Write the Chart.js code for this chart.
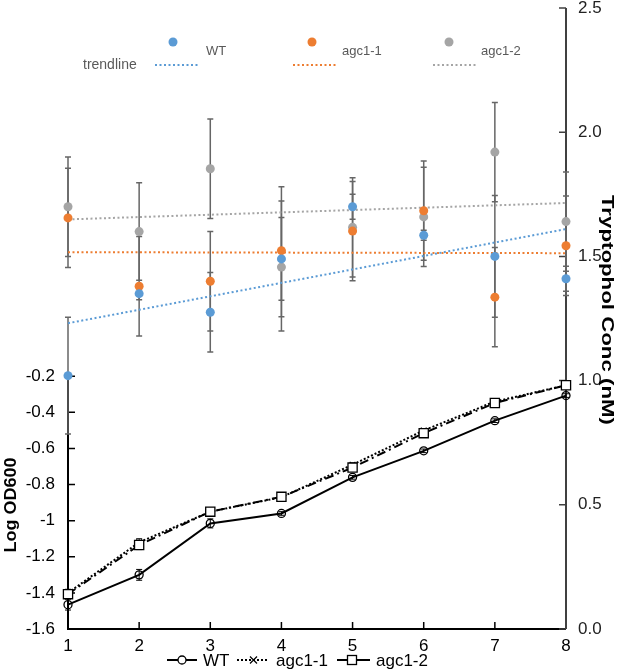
<!DOCTYPE html>
<html>
<head>
<meta charset="utf-8">
<script src="https://cdn.jsdelivr.net/npm/chart.js@4.4.1/dist/chart.umd.min.js"></script>
<style>
  html, body { margin: 0; padding: 0; background: #fff; }
</style>
</head>
<body>
<canvas id="chart" width="625" height="670"></canvas>
<script>
// x: days
const DAYS = [1, 2, 3, 4, 5, 6, 7, 8];

// Log OD600 (left axis)
const odWT   = [-1.465, -1.30, -1.015, -0.96, -0.76, -0.613, -0.446, -0.307];
const odAgc1 = [-1.40, -1.12, -0.95, -0.87, -0.69, -0.50, -0.34, -0.25];
const odAgc2 = [-1.407, -1.135, -0.95, -0.868, -0.706, -0.515, -0.348, -0.25];
const odErrWT   = [0.03, 0.03, 0.025, 0.01, 0.01, 0.01, 0.01, 0.01];
const odErrAgc1 = [0.02, 0.02, 0.01, 0.01, 0.01, 0.01, 0.01, 0.01];
const odErrAgc2 = [0.02, 0.025, 0.02, 0.01, 0.01, 0.01, 0.01, 0.01];

// Tryptophol Conc (nM) (right axis)
const trpWT   = [1.02, 1.35, 1.275, 1.49, 1.70, 1.585, 1.50, 1.41];
const trpAgc1 = [1.655, 1.38, 1.40, 1.523, 1.602, 1.684, 1.336, 1.543];
const trpAgc2 = [1.70, 1.60, 1.853, 1.457, 1.617, 1.659, 1.92, 1.64];
const trpErrWT   = [0.235, 0.025, 0.16, 0.29, 0.05, 0.02, 0.245, 0.05];
const trpErrAgc1 = [0.2, 0.2, 0.2, 0.2, 0.2, 0.2, 0.2, 0.2];
const trpErrAgc2 = [0.2, 0.196, 0.2, 0.2, 0.2, 0.2, 0.2, 0.2];

// trendlines (values at first and last day)
const trendX    = [1, 8];
const trendWT   = [1.231, 1.61];
const trendAgc1 = [1.517, 1.513];
const trendAgc2 = [1.649, 1.715];

const SERIES = ['WT', 'agc1-1', 'agc1-2'];
const COLORS = ['#5B9BD5', '#ED7D31', '#A5A5A5'];
const FONT = '"Liberation Sans", Arial, sans-serif';

const pts = (xs, ys) => xs.map((x, i) => ({ x, y: ys[i] }));

function scatterSet(i, vals, errs) {
  return {
    type: 'scatter', label: SERIES[i], yAxisID: 'yR',
    data: pts(DAYS, vals), errors: errs, errColor: '#666', errWidth: 1.5,
    pointRadius: 4.5, pointBackgroundColor: COLORS[i], pointBorderWidth: 0,
    clip: false, order: 0
  };
}

function trendSet(i, vals) {
  return {
    type: 'line', label: 'trend ' + SERIES[i], yAxisID: 'yR',
    data: pts(trendX, vals), borderColor: COLORS[i], borderWidth: 2,
    borderDash: [2, 2.5], pointRadius: 0, fill: false, clip: false, order: 3
  };
}

const odSets = [
  {
    type: 'line', label: 'WT', yAxisID: 'yL', data: pts(DAYS, odWT), errors: odErrWT,
    errColor: '#000', errWidth: 1, borderColor: '#000', borderWidth: 2,
    pointStyle: 'circle', pointRadius: 4, pointBorderColor: '#000', pointBorderWidth: 1.3,
    pointBackgroundColor: 'rgba(255,255,255,0)', clip: false, order: 2
  },
  {
    type: 'line', label: 'agc1-1', yAxisID: 'yL', data: pts(DAYS, odAgc1), errors: odErrAgc1,
    errColor: '#000', errWidth: 1, borderColor: '#000', borderWidth: 2, borderDash: [2, 2],
    pointStyle: 'crossRot', pointRadius: 4, pointBorderColor: '#000', pointBorderWidth: 1.2,
    clip: false, order: 2
  },
  {
    type: 'line', label: 'agc1-2', yAxisID: 'yL', data: pts(DAYS, odAgc2), errors: odErrAgc2,
    errColor: '#000', errWidth: 1, borderColor: '#000', borderWidth: 2, borderDash: [9, 4, 2, 4],
    pointStyle: 'rect', pointRadius: 6.5, pointBorderColor: '#000', pointBorderWidth: 1.3,
    pointBackgroundColor: '#fff', clip: false, order: 1
  }
];

const fmt = v => parseFloat(v.toFixed(1)).toString();

// keep the plot box fixed: no extra room for end labels
function fixY(width) {
  return s => { s.width = width; s.paddingTop = 0; s.paddingBottom = 0; };
}

// rotated title stretched to a given length along the text
function rotTitle(ctx, text, cx, cy, angle, len) {
  ctx.save();
  ctx.translate(cx, cy);
  ctx.rotate(angle);
  const w = ctx.measureText(text).width;
  ctx.scale(len / w, 1);
  ctx.fillText(text, 0, 0);
  ctx.restore();
}

const decor = {
  id: 'decor',
  beforeDatasetsDraw(chart) {
    const { ctx, chartArea: a, scales } = chart;
    const x = scales.x, yL = scales.yL, yR = scales.yR;
    ctx.save();
    ctx.lineCap = 'butt';

    // left + bottom axes (black)
    ctx.strokeStyle = '#000';
    ctx.lineWidth = 2;
    ctx.beginPath();
    ctx.moveTo(a.left, yL.getPixelForValue(-0.2));
    ctx.lineTo(a.left, a.bottom);
    ctx.lineTo(a.right, a.bottom);
    ctx.stroke();
    ctx.lineWidth = 1.5;
    ctx.beginPath();
    for (let v = -1.4; v <= -0.19; v += 0.2) {
      const py = yL.getPixelForValue(v);
      ctx.moveTo(a.left, py); ctx.lineTo(a.left + 7, py);
    }
    DAYS.forEach(d => {
      const px = x.getPixelForValue(d);
      ctx.moveTo(px, a.bottom); ctx.lineTo(px, a.bottom - 7);
    });
    ctx.stroke();

    // right axis (dark grey)
    ctx.strokeStyle = '#404040';
    ctx.lineWidth = 2;
    ctx.beginPath();
    ctx.moveTo(a.right, a.top);
    ctx.lineTo(a.right, a.bottom);
    ctx.stroke();
    ctx.lineWidth = 1.5;
    ctx.beginPath();
    for (let v = 0; v <= 2.51; v += 0.5) {
      const py = yR.getPixelForValue(v);
      ctx.moveTo(a.right, py); ctx.lineTo(a.right - 7, py);
    }
    ctx.stroke();

    // error bars
    chart.data.datasets.forEach((ds, i) => {
      if (!ds.errors) return;
      const meta = chart.getDatasetMeta(i);
      const sc = scales[ds.yAxisID];
      ctx.strokeStyle = ds.errColor;
      ctx.lineWidth = ds.errWidth;
      meta.data.forEach((pt, j) => {
        const v = ds.data[j].y, e = ds.errors[j];
        const y1 = sc.getPixelForValue(v + e), y2 = sc.getPixelForValue(v - e);
        ctx.beginPath();
        ctx.moveTo(pt.x, y1); ctx.lineTo(pt.x, y2);
        ctx.moveTo(pt.x - 3, y1); ctx.lineTo(pt.x + 3, y1);
        ctx.moveTo(pt.x - 3, y2); ctx.lineTo(pt.x + 3, y2);
        ctx.stroke();
      });
    });
    ctx.restore();
  },
  afterDraw(chart) {
    const { ctx } = chart;
    ctx.save();

    // axis titles
    ctx.fillStyle = '#000';
    ctx.font = 'bold 17px ' + FONT;
    ctx.textAlign = 'center';
    ctx.textBaseline = 'middle';
    rotTitle(ctx, 'Log OD600', 11, 505, -Math.PI / 2, 95);
    rotTitle(ctx, 'Tryptophol Conc (nM)', 607, 310, Math.PI / 2, 230);

    // top legend
    ctx.font = '13px ' + FONT;
    ctx.fillStyle = '#595959';
    ctx.textAlign = 'left';
    const dotX = [173, 312, 449];
    const txtX = [206, 342, 481];
    const lineX = [155, 293, 433];
    for (let i = 0; i < 3; i++) {
      ctx.fillStyle = COLORS[i];
      ctx.beginPath();
      ctx.arc(dotX[i], 42, 4.5, 0, Math.PI * 2);
      ctx.fill();
      ctx.fillStyle = '#595959';
      ctx.fillText(SERIES[i], txtX[i], 51);
      ctx.strokeStyle = COLORS[i];
      ctx.lineWidth = 2;
      ctx.setLineDash([2, 2.5]);
      ctx.beginPath();
      ctx.moveTo(lineX[i], 65); ctx.lineTo(lineX[i] + 43, 65);
      ctx.stroke();
      ctx.setLineDash([]);
    }
    ctx.font = '14px ' + FONT;
    ctx.fillText('trendline', 83, 65);

    // bottom legend
    const ly = 660;
    ctx.strokeStyle = '#000';
    ctx.fillStyle = '#000';
    ctx.font = '17px ' + FONT;
    ctx.lineWidth = 2;
    ctx.beginPath(); ctx.moveTo(167, ly); ctx.lineTo(197, ly); ctx.stroke();
    ctx.fillStyle = '#fff';
    ctx.lineWidth = 1.3;
    ctx.beginPath(); ctx.arc(182, ly, 4, 0, Math.PI * 2); ctx.fill(); ctx.stroke();
    ctx.fillStyle = '#000';
    ctx.fillText('WT', 203, ly + 1);

    ctx.lineWidth = 2;
    ctx.setLineDash([2, 2]);
    ctx.beginPath(); ctx.moveTo(237, ly); ctx.lineTo(267, ly); ctx.stroke();
    ctx.setLineDash([]);
    ctx.lineWidth = 1.2;
    ctx.beginPath();
    ctx.moveTo(250, ly - 3.5); ctx.lineTo(257, ly + 3.5);
    ctx.moveTo(257, ly - 3.5); ctx.lineTo(250, ly + 3.5);
    ctx.stroke();
    ctx.fillText('agc1-1', 276, ly + 1);

    ctx.lineWidth = 2;
    ctx.beginPath();
    ctx.moveTo(337, ly); ctx.lineTo(347, ly);
    ctx.moveTo(357, ly); ctx.lineTo(370, ly);
    ctx.stroke();
    ctx.lineWidth = 1.3;
    ctx.fillStyle = '#fff';
    ctx.fillRect(347.5, ly - 4.5, 9, 9);
    ctx.strokeRect(347.5, ly - 4.5, 9, 9);
    ctx.fillStyle = '#000';
    ctx.fillText('agc1-2', 376, ly + 1);

    ctx.restore();
  }
};

new Chart(document.getElementById('chart'), {
  data: {
    datasets: [
      scatterSet(0, trpWT, trpErrWT),
      scatterSet(1, trpAgc1, trpErrAgc1),
      scatterSet(2, trpAgc2, trpErrAgc2),
      trendSet(0, trendWT),
      trendSet(1, trendAgc1),
      trendSet(2, trendAgc2),
      ...odSets
    ]
  },
  options: {
    responsive: false,
    animation: false,
    layout: { padding: { top: 8 } },
    plugins: { legend: { display: false }, tooltip: { enabled: false } },
    scales: {
      x: {
        type: 'linear', min: 1, max: 8,
        ticks: { stepSize: 1, padding: 7, color: '#000', font: { family: FONT, size: 17 } },
        grid: { display: false, drawTicks: false }, border: { display: false },
        afterFit: s => { s.height = 41; }
      },
      yL: {
        type: 'linear', position: 'left', min: -1.6, max: 1.84,
        ticks: {
          stepSize: 0.2, padding: 13, color: '#000', font: { family: FONT, size: 17 },
          callback: v => (v > -0.15 ? null : fmt(v))
        },
        grid: { display: false, drawTicks: false }, border: { display: false },
        afterFit: fixY(68)
      },
      yR: {
        type: 'linear', position: 'right', min: 0, max: 2.5,
        ticks: {
          stepSize: 0.5, padding: 12, color: '#222', font: { family: FONT, size: 17 },
          callback: v => v.toFixed(1)
        },
        grid: { display: false, drawTicks: false }, border: { display: false },
        afterFit: fixY(59)
      }
    }
  },
  plugins: [decor]
});
</script>
</body>
</html>
